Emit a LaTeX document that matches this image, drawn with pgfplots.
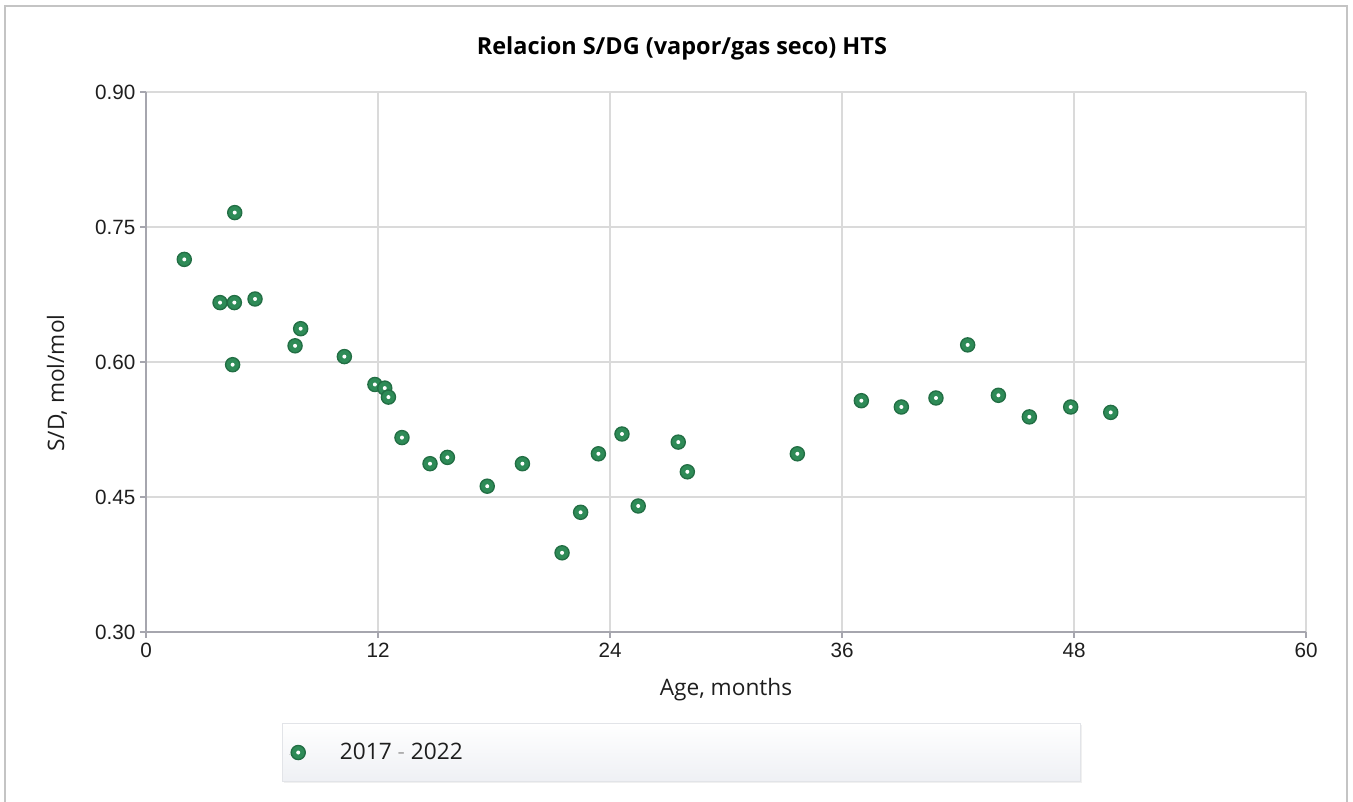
\documentclass[border=0pt]{standalone}
\usepackage{fontspec}
\setmainfont{Liberation Sans}
\newfontfamily\labelfont{Open Sans}
\usepackage{pgfplots}
\pgfplotsset{compat=1.18}
\usetikzlibrary{shadows}

\definecolor{ptgreen}{RGB}{46,139,87}
\definecolor{ptedge}{RGB}{34,110,68}
\definecolor{gridgray}{RGB}{218,218,218}
\definecolor{axisgray}{RGB}{166,166,174}
\definecolor{framegray}{RGB}{196,196,196}
\definecolor{txt}{RGB}{30,30,30}
\definecolor{legbot}{RGB}{238,240,244}
\definecolor{legborder}{RGB}{226,228,232}

% filled circle with a small white centre
\pgfdeclareplotmark{ringdot}{%
  \pgfpathcircle{\pgfpointorigin}{\pgfplotmarksize}%
  \pgfusepathqfillstroke
  \begin{pgfscope}%
    \pgfsetfillcolor{white}%
    \pgfpathcircle{\pgfpointorigin}{1.5pt}%
    \pgfusepathqfill
  \end{pgfscope}%
}

\begin{document}
\begin{tikzpicture}
\path[use as bounding box] (0,0) rectangle (1014.75pt,601.5pt);
\draw[framegray, line width=1.3pt] (3.75pt,-10pt) -- (3.75pt,597pt) -- (1010pt,597pt) -- (1010pt,-10pt);
\begin{axis}[
  at={(109.5pt,127.5pt)}, anchor=south west,
  width=870pt, height=405pt, scale only axis,
  xmin=0, xmax=60, ymin=0.30, ymax=0.90,
  xtick={0,12,24,36,48,60},
  ytick={0.30,0.45,0.60,0.75,0.90},
  yticklabel style={/pgf/number format/.cd, fixed, fixed zerofill, precision=2},
  /pgf/number format/assume math mode=true,
  tick label style={font=\fontsize{15.5}{18}\selectfont, text=txt},
  grid=major, grid style={gridgray, line width=0.8pt},
  axis lines*=left,
  axis line style={axisgray, line width=1pt},
  tick style={axisgray, line width=0.8pt},
  tick align=outside, major tick length=4.5pt,
  xlabel={Age, months},
  ylabel={S/D, mol/mol},
  label style={font=\labelfont\fontsize{17}{20}\selectfont, text=txt},
  xlabel style={at={(axis description cs:0.5,-0.1074)}, anchor=center},
  ylabel style={at={(axis description cs:-0.0767,0.461)}, anchor=center, rotate=0},
  title={Relacion S/DG (vapor/gas seco) HTS},
  title style={at={(axis description cs:0.462,1.0667)}, anchor=center,
    font=\labelfont\bfseries\fontsize{17.6}{22}\selectfont, text=black},
  legend style={at={(axis description cs:0.1172,-0.2778)}, anchor=south west,
    draw=legborder, top color=white, bottom color=legbot,
    drop shadow={opacity=0.12, shadow xshift=1.2pt, shadow yshift=-1.2pt},
    inner xsep=4pt, inner ysep=13pt,
    font=\labelfont\fontsize{17}{20}\selectfont, text=txt},
  legend cell align=left,
  legend image code/.code={\path[draw=none] (-8pt,0pt) -- (4pt,0pt);
    \draw[#1] plot coordinates {(0pt,0pt)};},
]
\addplot[only marks, mark=ringdot, mark size=5.3pt,
  mark options={fill=ptgreen, draw=ptedge, line width=1pt}]
  coordinates {
  (1.98,0.714) (3.83,0.666) (4.57,0.666) (4.59,0.766) (4.48,0.597)
  (5.64,0.670) (7.71,0.618) (8.00,0.637) (10.26,0.606) (11.84,0.575)
  (12.35,0.571) (12.54,0.561) (13.24,0.516) (14.69,0.487) (15.59,0.494)
  (17.65,0.462) (19.47,0.487) (21.52,0.388) (22.48,0.433) (23.40,0.498)
  (24.62,0.520) (25.46,0.440) (27.53,0.511) (28.00,0.478) (33.69,0.498)
  (37.00,0.557) (39.07,0.550) (40.86,0.560) (42.50,0.619) (44.09,0.563)
  (45.69,0.539) (47.83,0.550) (49.90,0.544)
  };
\addlegendentry{\makebox[573pt][l]{\hspace*{24pt}2017 {\color{gray!70}-} 2022}}
\end{axis}
\end{tikzpicture}
\end{document}
